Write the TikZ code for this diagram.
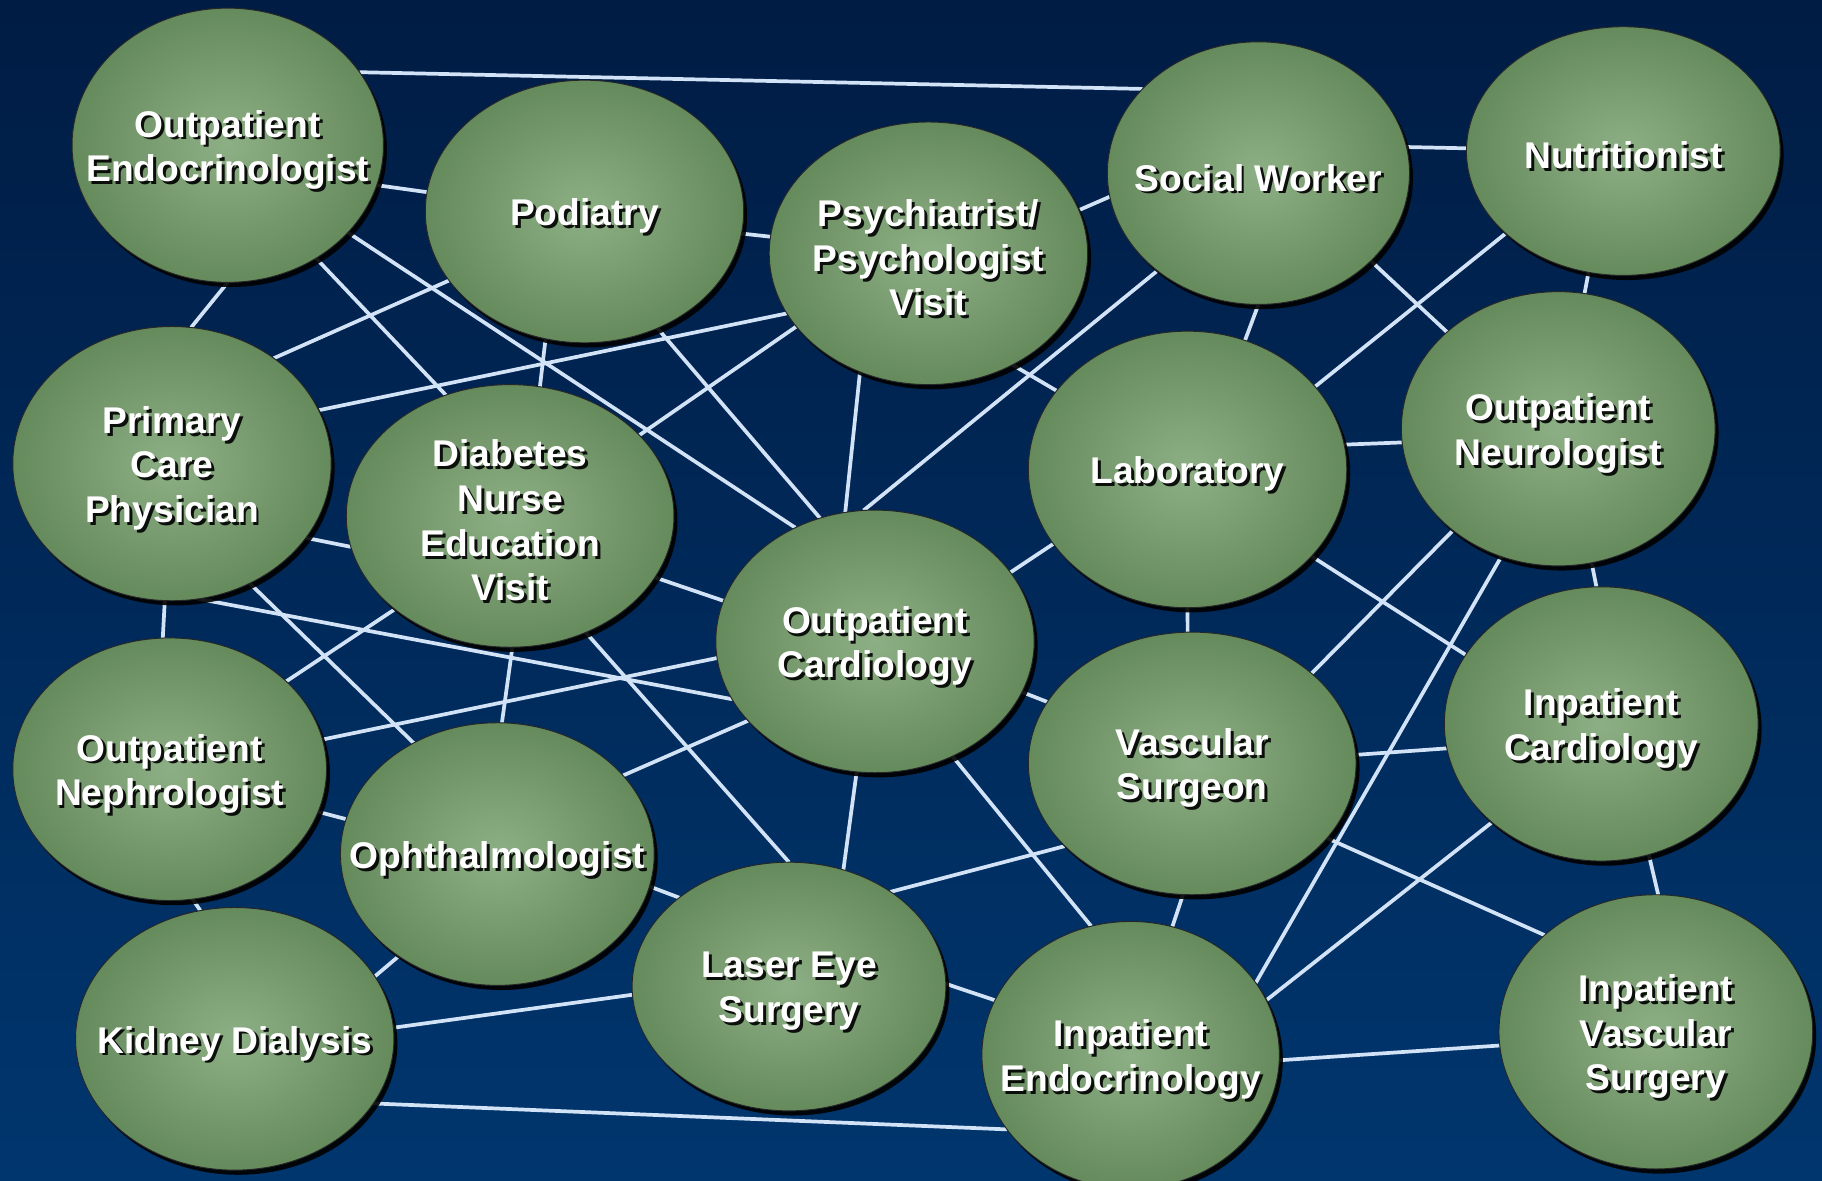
\documentclass[tikz,border=0pt]{standalone}
\usepackage{fontspec}
\setmainfont{Liberation Sans}
\usetikzlibrary{shapes.geometric,shadows}

\definecolor{bgtop}{HTML}{001C44}
\definecolor{bgbot}{HTML}{00366E}
\definecolor{blobin}{HTML}{8DAF85}
\definecolor{blobout}{HTML}{658A5C}
\definecolor{wirec}{HTML}{D2E2F7}

\pgfdeclarelayer{bg}
\pgfdeclarelayer{wires}
\pgfsetlayers{bg,wires,main}

\tikzset{
  blob/.style={ellipse,minimum width=270pt,minimum height=226pt,inner sep=0pt,outer sep=0pt,
    draw=black!85,line width=0.8pt,shading=radial,inner color=blobin,outer color=blobout,
    drop shadow={shadow xshift=3pt,shadow yshift=-4pt,fill=black,opacity=0.9}},
  sz/.style 2 args={minimum width=#1pt,minimum height=#2pt},
  txt/.style={text=white,align=center,font=\bfseries\fontsize{32}{38.5}\selectfont},
  txtsh/.style={txt,text=black,text opacity=0.9},
  wire/.style={draw=wirec,line width=3.2pt}
}

% ellipse, then its text with a dark copy behind
\newcommand\clinic[4][]{%
  \node[blob,#1] (#2) at (#3) {};
  \node[txtsh] (#2-s) at ([shift={(2.5pt,-6.5pt)}]#2) {#4};
  \node[txt] (#2-t) at ([yshift=-4pt]#2) {#4};
}

\begin{document}
\begin{tikzpicture}[x=1pt,y=-1pt]
  \useasboundingbox (0,0) rectangle (1568,1016);
  \begin{pgfonlayer}{bg}
    \shade[top color=bgtop,bottom color=bgbot] (0,0) rectangle (1568,1016);
  \end{pgfonlayer}

  \clinic[sz={268}{236}]{OE}{196,125}{Outpatient\\Endocrinologist}
  \clinic[sz={274}{226}]{Pod}{503,182}{Podiatry}
  \clinic[sz={274}{226}]{Psy}{799,218}{Psychiatrist/\\Psychologist\\Visit}
  \clinic[sz={260}{226}]{SW}{1083,149}{Social Worker}
  \clinic[sz={270}{214}]{Nut}{1397,130}{Nutritionist}
  \clinic[sz={274}{236}]{PCP}{148,399}{Primary\\Care\\Physician}
  \clinic[sz={282}{226}]{DNE}{439,444}{Diabetes\\Nurse\\Education\\Visit}
  \clinic[sz={274}{238}]{Lab}{1022,404}{Laboratory}
  \clinic[sz={270}{236}]{ON}{1341,369}{Outpatient\\Neurologist}
  \clinic[sz={274}{226}]{OC}{753,552}{Outpatient\\Cardiology}
  \clinic[sz={270}{226}]{ONe}{146,662}{Outpatient\\Nephrologist}
  \clinic[sz={282}{226}]{VS}{1026,657}{Vascular\\Surgeon}
  \clinic[sz={270}{236}]{IC}{1378,623}{Inpatient\\Cardiology}
  \clinic[sz={270}{226}]{Oph}{428,735}{Ophthalmologist}
  \clinic[sz={270}{214}]{LES}{679,849}{Laser Eye\\Surgery}
  \clinic[sz={274}{226}]{KD}{202,894}{Kidney Dialysis}
  \clinic[sz={256}{230}]{IE}{973,908}{Inpatient\\Endocrinology}
  \clinic[sz={270}{236}]{IVS}{1425,888}{Inpatient\\Vascular\\Surgery}

  \begin{pgfonlayer}{wires}
  \path[wire]
  (OE.29) edge (SW.144)
  (OE.-15) edge (Pod.173)
  (OE.-90) edge (PCP.82)
  (OE.-52) edge (DNE.118)
  (OE.-36) edge (OC.125)
  (Pod.-153) edge (PCP.46)
  (Pod.-107) edge (DNE.77)
  (Pod.-58) edge (OC.114)
  (Pod.-8) edge (Psy.174)
  (Psy.-157) edge (PCP.20)
  (Psy.-151) edge (DNE.32)
  (Psy.-120) edge (OC.103)
  (Psy.-53) edge (Lab.149)
  (Psy.16) edge (SW.-171)
  (SW.10) edge (Nut.179)
  (SW.-90) edge (Lab.66)
  (SW.-136) edge (OC.95)
  (SW.-38) edge (ON.139)
  (Nut.-145) edge (Lab.33)
  (Nut.-106) edge (ON.79)
  (Lab.9) edge (ON.-175)
  (Lab.-151) edge (OC.27)
  (Lab.-90) edge (VS.92)
  (Lab.-35) edge (IC.153)
  (ON.-76) edge (IC.92)
  (ON.-136) edge (VS.37)
  (ON.-114) edge (IE.30)
  (IC.-171) edge (VS.3)
  (IC.-138) edge (IE.22)
  (IC.-70) edge (IVS.89)
  (VS.-29) edge (IVS.139)
  (VS.-94) edge (IE.72)
  (VS.-147) edge (LES.43)
  (VS.157) edge (OC.-19)
  (OC.-56) edge (IE.107)
  (OC.-98) edge (LES.65)
  (OC.-148) edge (Oph.32)
  (OC.-174) edge (ONe.11)
  (OC.165) edge (DNE.-23)
  (PCP.-79) edge (OC.-158)
  (PCP.-29) edge (DNE.-169)
  (PCP.-57) edge (Oph.127)
  (PCP.-93) edge (ONe.93)
  (DNE.-141) edge (ONe.37)
  (DNE.-89) edge (Oph.88)
  (DNE.-57) edge (LES.90)
  (ONe.-16) edge (Oph.167)
  (ONe.-80) edge (KD.105)
  (Oph.-134) edge (KD.24)
  (Oph.-12) edge (LES.141)
  (KD.4) edge (LES.-177)
  (KD.-25) edge (IE.-149)
  (LES.1) edge (IE.158)
  (IE.-2) edge (IVS.-175)
  ;
  \end{pgfonlayer}
\end{tikzpicture}
\end{document}
